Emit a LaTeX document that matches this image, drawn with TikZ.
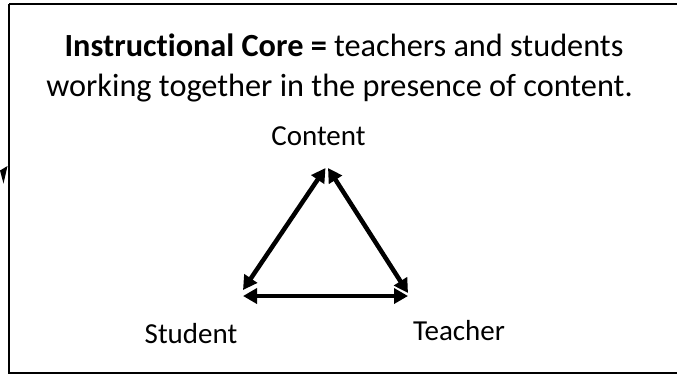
\documentclass[tikz,border=0pt]{standalone}
\usepackage{fontspec}
\setmainfont{Carlito}[Ligatures=NoCommon]
\usetikzlibrary{arrows.meta}
\begin{document}
\begin{tikzpicture}[x=1pt,y=-1pt,
  frame/.style={draw=black,line width=2pt},
  label/.style={font=\fontsize{29}{35}\selectfont,inner sep=0pt,anchor=base},
  head/.style={font=\fontsize{32.3}{39}\selectfont,inner sep=0pt,anchor=base},
  link/.style={line width=4.5pt,{Triangle[length=14pt,width=15pt]}-{Triangle[length=14pt,width=15pt]}},
  tip/.style={fill=black,draw=none}]
\useasboundingbox (0,0) rectangle (677,376);
\clip (0,0) rectangle (677,376);

% outer frame, running off the right-hand side
\draw[frame] (9,4) -- (700,4);
\draw[frame] (9,4) -- (9,373) -- (700,373);

% small arrowhead resting on the left side of the frame
\fill[tip] (0,170.5) -- (7.5,166) -- (3.5,183.5) -- cycle;

% heading
\node[head] (head1) at (344,56) {\textbf{Instructional Core =} teachers and students};
\node[head] (head2) at (339.5,96) {working together in the presence of content.};

% corner labels
\node[label] (content) at (318.5,145) {Content};
\node[label] (student) at (191,343) {Student};
\node[label] (teacher) at (459,340) {Teacher};

% arrow end points of the triangle
\coordinate (topL) at (325.5,168);
\coordinate (topR) at (328,168);
\coordinate (botLd) at (243,290);
\coordinate (botLh) at (243,296);
\coordinate (botRd) at (408,293);
\coordinate (botRh) at (408,296);

\draw[link] (botLd) -- (topL);
\draw[link] (topR) -- (botRd);
\draw[link] (botLh) -- (botRh);
\end{tikzpicture}
\end{document}
